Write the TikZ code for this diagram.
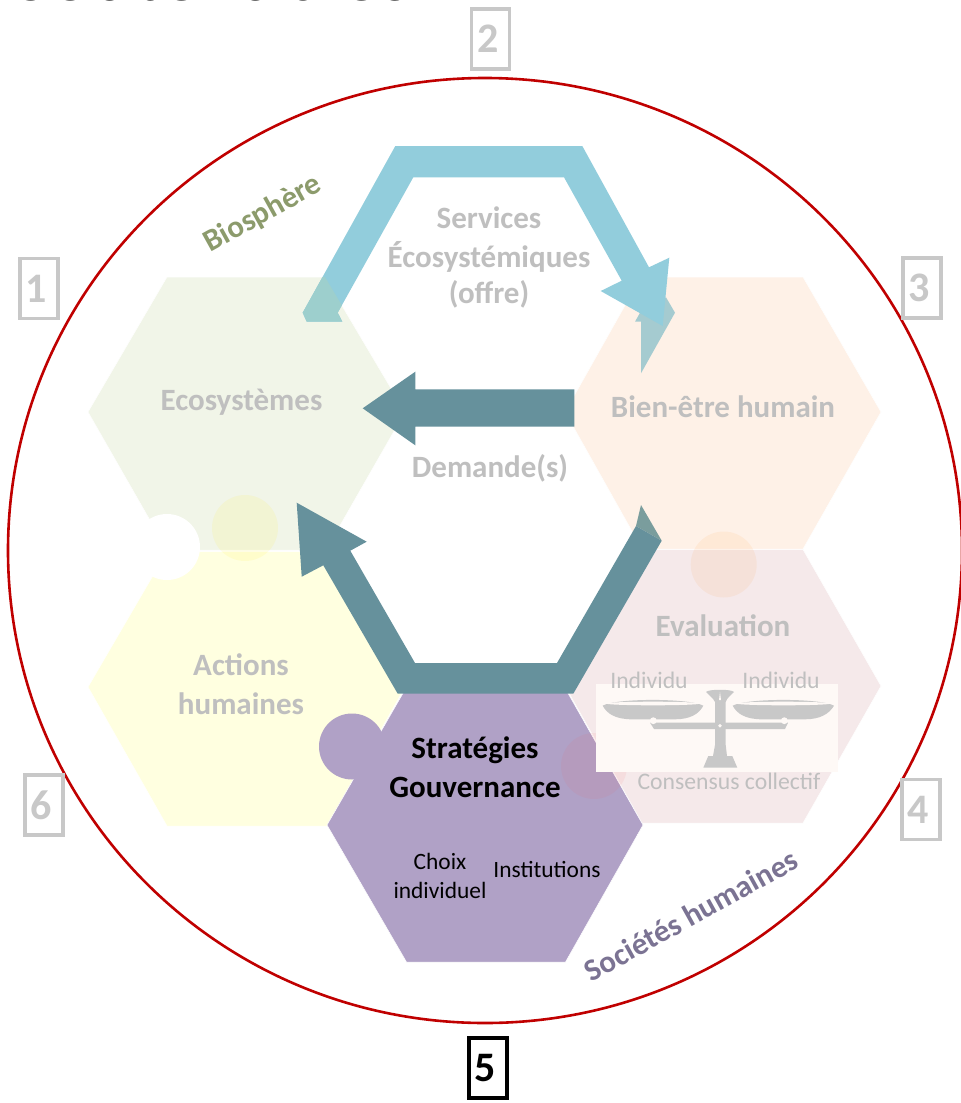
\documentclass[tikz,border=0pt]{standalone}
\usepackage{fontspec}
\setmainfont{Carlito}
\definecolor{grayt}{HTML}{BFBFBF}
\definecolor{ecoc}{HTML}{F1F5E8}
\definecolor{bienc}{HTML}{FEF1E7}
\definecolor{actc}{HTML}{FFFFE0}
\definecolor{evalc}{HTML}{F5E9EA}
\definecolor{stratc}{HTML}{B0A1C6}
\definecolor{bluea}{HTML}{92CDDC}
\definecolor{blueb}{HTML}{9DCFCD}
\definecolor{bluec}{HTML}{A5CBD0}
\definecolor{darka}{HTML}{66919C}
\definecolor{darkb}{HTML}{7A9D9D}
\definecolor{scalec}{HTML}{C8C8C8}
\definecolor{redc}{HTML}{C00000}
\definecolor{bioc}{HTML}{8C9B6C}
\definecolor{socc}{HTML}{7B7393}
\definecolor{panelc}{HTML}{FEF9F6}
\tikzset{
  hexa/.style={draw=white,line width=.5pt},
  numbox/.style={draw=scalec,line width=3.4pt,minimum width=38pt,minimum height=60pt,inner sep=0pt,text=scalec,font=\fontsize{42}{42}\selectfont\bfseries},
  lab/.style={text=grayt,font=\fontsize{31}{31}\selectfont\bfseries,inner sep=0pt,align=center},
  slab/.style={text=grayt,font=\fontsize{23.7}{24}\selectfont,inner sep=0pt,align=center},
  blab/.style={text=black,font=\fontsize{31}{31}\selectfont\bfseries,inner sep=0pt,align=center},
  clab/.style={text=black,font=\fontsize{23.4}{24}\selectfont,inner sep=0pt,align=center},
  bump/.style={inner sep=0pt,minimum size=66pt,circle},
}
\begin{document}
\begin{tikzpicture}[x=1pt,y=-1pt]
\useasboundingbox (0,0) rectangle (961,1103);
\fill[white] (0,0) rectangle (961,1103);
\begin{scope}
\clip (0,0) rectangle (961,1103);
\node[anchor=base west,inner sep=0pt,font=\fontsize{80}{80}\selectfont] (title) at (13,0) {Soutenables};
\draw[redc,line width=2.6pt] (485,550.5) ellipse [x radius=477,y radius=472.5];
\end{scope}
% hexagons
\fill[ecoc,hexa] (88,412)--(167,277)--(325,277)--(405,412)--(326,550)--(167,550)--cycle;
\fill[bienc,hexa] (565,412)--(641,277)--(803,277)--(881,412)--(803,549)--(642,549)--cycle;
\fill[actc,hexa] (88,687)--(167,551.5)--(326,551.5)--(405,687)--(327,826)--(167,826)--cycle;
\fill[evalc,hexa] (565,686)--(642,549.5)--(803,549.5)--(881,686)--(803,823)--(642,823)--cycle;
\fill[stratc,hexa] (327,825)--(406,688)--(565,688)--(643,825)--(565.5,962)--(406.5,962)--cycle;
% bumps
\node[bump,fill=white] (bwhite) at (167,547) {};
\node[bump,fill=yellow,opacity=.09] (byellow) at (245,528) {};
\node[bump,fill=orange,opacity=.07] (borange) at (723.7,564.5) {};
\node[bump,fill=stratc] (bpurple) at (352,746.5) {};
\node[bump,fill=red!70!white,opacity=.07] (bpink) at (594,766) {};
% white panel
\fill[panelc] (596,684.3) rectangle (838.3,772.3);
\node[slab] (ind1) at (649,680) {Individu};
\node[slab] (ind2) at (781,680) {Individu};
\node[slab] (cons) at (729,781) {Consensus collectif};
% scale icon
\fill[scalec] (602.7,705.7) .. controls (607,714) and (616,719.3) .. (632,719.3) -- (675,719.3) .. controls (690,719.3) and (699,714) .. (703.3,705.7) .. controls (690,698) and (615,698) .. (602.7,705.7) -- cycle;
\fill[scalec] (732.7,705.7) .. controls (737,714) and (746,719.3) .. (762,719.3) -- (805,719.3) .. controls (820,719.3) and (829,714) .. (834,705.7) .. controls (821,698) and (746,698) .. (732.7,705.7) -- cycle;
\fill[panelc] (653,703.5) ellipse [x radius=47,y radius=1.8];
\fill[panelc] (783.5,703.5) ellipse [x radius=47,y radius=1.8];
\fill[scalec] (650,722.7)--(788,722.7)--(785,729)--(654,729)--cycle;
\fill[panelc] (653.3,720.7) circle (3.4);
\fill[panelc] (784.3,720.7) circle (3.4);
\fill[scalec] (715,700)--(725.7,700)--(725.7,745)--(727,756)--(713,756)--(715,745)--cycle;
\fill[scalec] (706,692) .. controls (708,689) and (732,689) .. (734,692) .. controls (730,696) and (727,698) .. (725.7,702) -- (715,702) .. controls (713,698) and (710,696) .. (706,692) -- cycle;
\fill[panelc] (720,692) -- (721,700) -- (719,700) -- cycle;
\fill[scalec] (703.3,767.7)--(737.3,767.7)--(732.3,756)--(708.3,756)--cycle;
\fill[panelc] (720,725.7) circle (1.8);
% blue arrow
\fill[bluec] (641,373.3)--(641,321.7)--(635,321.7)--(641,311)--(666,297.3)--(675,312.7)--cycle;
\fill[bluea] (302.7,312.7)--(395.3,146)--(582.3,146)--(649,267.3)--(669.3,257.7)--(662.7,326)--(600.7,291)--(621.7,280.7)--(564,177.3)--(413.3,177.3)--(337.7,312.7)--(342.3,321.7)--(306.7,321.7)--cycle;
\begin{scope}
\clip (88,412)--(167,277)--(325,277)--(405,412)--(326,550)--(167,550)--cycle;
\fill[blueb] (302.7,312.7)--(395.3,146)--(413.3,177.3)--(337.7,312.7)--(342.3,321.7)--(306.7,321.7)--cycle;
\end{scope}
% dark arrows
\fill[darkb] (641,505)--(661.7,540.7)--(636,526)--cycle;
\fill[darka] (661.7,540.7)--(573.3,693.7)--(397.7,693.7)--(323.3,565.3)--(301.7,576.7)--(296.7,502.7)--(366.7,541.7)--(350.3,550.7)--(415,663)--(557,663)--(636,526)--cycle;
\fill[darka] (574.3,389.3)--(415.3,389.3)--(415.3,371.7)--(362.7,408.3)--(415.3,445.3)--(415.3,426.7)--(574.3,426.7)--cycle;
% labels
\node[lab] (serv) at (489,218) {Services};
\node[lab] (ecosys) at (489,256.5) {Écosystémiques};
\node[lab] (offre) at (489,294) {(offre)};
\node[lab] (eco) at (241.5,402) {Ecosystèmes};
\node[lab] (bien) at (723,406.5) {Bien-être humain};
\node[lab] (dem) at (490,468) {Demande(s)};
\node[lab] (act1) at (241,665) {Actions};
\node[lab] (act2) at (241,704) {humaines};
\node[lab] (eval) at (723,626) {Evaluation};
\node[blab] (strat) at (475,750) {Stratégies};
\node[blab] (gouv) at (475,787) {Gouvernance};
\node[clab] (choix) at (440,861) {Choix};
\node[clab] (indiv) at (440,890) {individuel};
\node[clab] (inst) at (547,869) {Institutions};
\node[text=bioc,font=\fontsize{31}{31}\selectfont\bfseries,inner sep=0pt,rotate=29] (bio) at (263,214) {Biosphère};
\node[text=socc,font=\fontsize{31}{31}\selectfont\bfseries,inner sep=0pt,rotate=29] (soc) at (691,915) {Sociétés humaines};
% number boxes
\node[numbox] (n2) at (490.5,39) {\hspace*{-5pt}2};
\node[numbox] (n1) at (39,288.5) {\hspace*{-5pt}1};
\node[numbox] (n3) at (922,288) {\hspace*{-5pt}3};
\node[numbox] (n6) at (44,805) {\hspace*{-5pt}6};
\node[numbox] (n4) at (921,809.5) {\hspace*{-5pt}4};
\node[numbox,draw=black,text=black] (n5) at (488,1068) {\hspace*{-5pt}5};
\end{tikzpicture}
\end{document}
